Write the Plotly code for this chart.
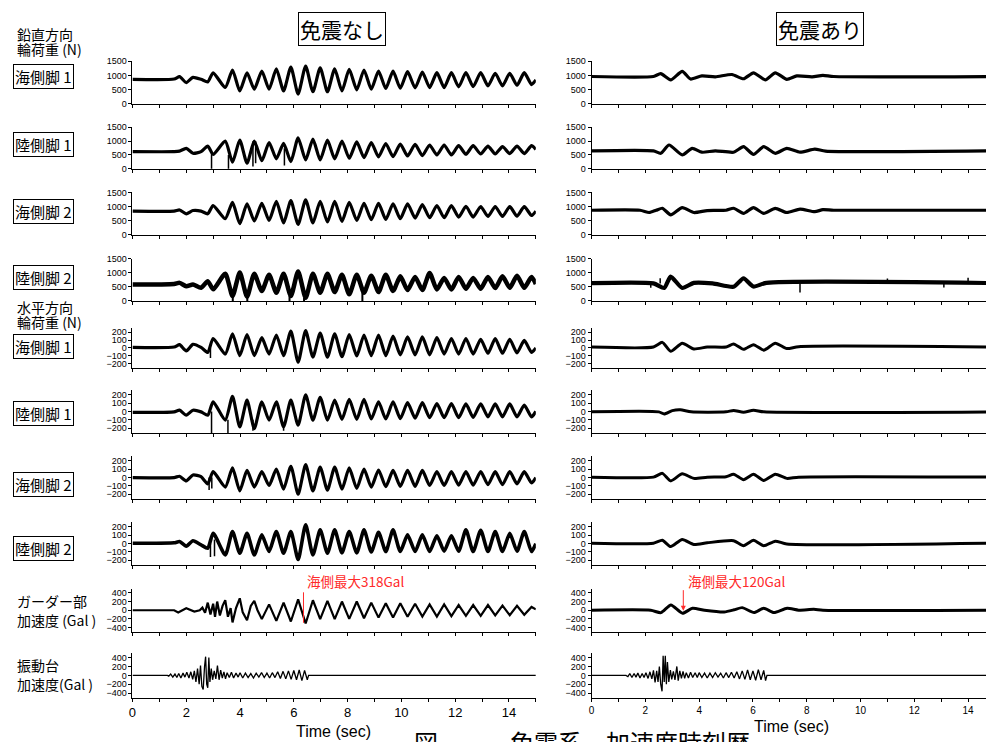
import plotly.graph_objects as go

W, H = 986, 742

# ---------------- data ----------------
# knot times for the left (no isolation) load traces: pre-event knots then alternating extrema
T_LEFT = [0, 1.55, 1.75, 2.0, 2.25, 2.55, 2.8, 3.0, 3.45,
          3.72, 3.99, 4.26, 4.53, 4.81, 5.08, 5.35, 5.62, 5.89, 6.16, 6.44, 6.71, 6.98, 7.25,
          7.52, 7.79, 8.06, 8.34, 8.61, 8.88, 9.15, 9.42, 9.69, 9.96, 10.23, 10.51, 10.78,
          11.05, 11.32, 11.59, 11.86, 12.13, 12.40, 12.67, 12.95, 13.22, 13.49, 13.76, 14.03,
          14.30, 14.57, 14.84, 15.0]

L_V_SEA1 = [860, 870, 955, 745, 930, 860, 770, 1090, 570,
            1190, 450, 1090, 510, 1150, 510, 1230, 450, 1290, 340, 1330, 420, 1270, 420,
            1230, 450, 1210, 490, 1190, 510, 1150, 535, 1150, 545, 1130, 560, 1115,
            570, 1095, 570, 1095, 595, 1095, 605, 1095, 630, 1070, 630, 1070,
            650, 1095, 675, 840]
L_V_LAND1 = [620, 620, 640, 740, 560, 620, 820, 520, 1000,
             240, 1035, 200, 1000, 290, 950, 360, 920, 260, 1120, 320, 1070, 320, 1035,
             360, 1000, 380, 975, 405, 950, 430, 915, 440, 895, 465, 880, 475,
             860, 500, 860, 500, 835, 525, 835, 535, 820, 535, 800, 550,
             820, 550, 835, 700]
L_V_SEA2 = [840, 840, 880, 745, 860, 840, 745, 1035, 570,
            1150, 395, 1095, 490, 1115, 510, 1185, 420, 1210, 370, 1235, 420, 1185, 455,
            1185, 475, 1150, 510, 1115, 535, 1115, 545, 1095, 570, 1095, 595, 1070,
            605, 1035, 605, 1035, 630, 1010, 630, 1000, 650, 1000, 650, 1000,
            665, 1000, 685, 840]
L_V_LAND2 = [580, 600, 640, 520, 580, 465, 700, 410, 965,
             175, 1010, 150, 965, 350, 930, 290, 965, 175, 1045, 115, 965, 290, 965,
             315, 930, 235, 930, 290, 895, 315, 930, 350, 870, 385, 850, 385,
             990, 405, 815, 405, 850, 430, 815, 430, 850, 455, 870, 465,
             895, 465, 850, 600]
L_H_SEA1 = [5, 10, 40, -40, 45, 5, -60, 120, -80,
            180, -100, 170, -100, 130, -80, 165, -100, 215, -185, 220, -120, 190, -120,
            180, -115, 170, -105, 165, -100, 165, -100, 150, -90, 140, -90, 140,
            -90, 130, -80, 120, -80, 120, -80, 110, -70, 120, -70, 110,
            -65, 95, -60, 0]
L_H_LAND1 = [-10, -5, 15, -45, 15, -5, -45, 115, -105,
             180, -185, 135, -205, 115, -105, 115, -185, 135, -165, 200, -105, 170, -105,
             135, -95, 145, -95, 145, -90, 115, -90, 115, -85, 105, -80, 105,
             -75, 95, -75, 95, -75, 90, -70, 90, -65, 90, -65, 90,
             -65, 75, -65, 0]
L_H_SEA2 = [0, 0, 15, -40, 30, 10, -75, 70, -115,
            115, -160, 85, -115, 70, -95, 100, -140, 135, -200, 155, -160, 125, -150,
            125, -140, 115, -130, 100, -115, 90, -110, 85, -105, 85, -105, 85,
            -95, 70, -95, 70, -90, 70, -90, 70, -85, 70, -85, 70,
            -75, 70, -65, 0]
L_H_LAND2 = [5, 10, 25, -30, 35, -15, -55, 125, -135,
             145, -115, 125, -135, 105, -95, 145, -115, 145, -190, 225, -135, 165, -115,
             165, -110, 145, -110, 165, -100, 135, -95, 165, -95, 105, -95, 105,
             -95, 95, -90, 95, -90, 165, -95, 160, -95, 145, -95, 125,
             -90, 145, -95, 0]

# girder acceleration, no isolation (Gal)
L_GIRDER_T = [0, 1.55, 1.7, 2.0, 2.3, 2.5, 2.6, 2.7, 2.8, 2.9,
              3.0, 3.07, 3.15, 3.25, 3.35, 3.45, 3.55, 3.65, 3.72, 3.85,
              3.99, 4.1, 4.26, 4.4, 4.53, 4.65, 4.81,
              5.08, 5.35, 5.62, 5.89, 6.16, 6.44, 6.71, 6.98, 7.25, 7.52,
              7.79, 8.06, 8.34, 8.61, 8.88, 9.15, 9.42, 9.69, 9.96, 10.23,
              10.51, 10.78, 11.05, 11.32, 11.59, 11.86, 12.13, 12.40, 12.67, 12.95,
              13.22, 13.49, 13.76, 14.03, 14.30, 14.57, 14.84, 15.0]
L_GIRDER = [0, 0, -50, 45, -30, 0, 60, -60, 175, -100,
            150, -150, 200, -120, 100, 230, -150, 50, -280, 50,
            275, -50, -230, 100, 215, 0, -205,
            135, -245, 175, -260, 250, -305, 230, -205, 215, -205,
            200, -200, 200, -185, 175, -170, 160, -170, 160, -150,
            150, -145, 135, -145, 135, -135, 120, -130, 120, -130,
            120, -120, 105, -115, 100, -105, 75, 20]

# shaking-table acceleration, no isolation (Gal)
L_TABLE_T = [0, 1.3, 1.35, 1.42, 1.5, 1.58, 1.65, 1.72, 1.8, 1.88,
             1.95, 2.02, 2.1, 2.17, 2.24, 2.3, 2.36, 2.42, 2.48, 2.53,
             2.58, 2.63, 2.68, 2.72, 2.76, 2.8, 2.84, 2.88, 2.93, 2.98,
             3.04, 3.1, 3.16, 3.22, 3.28, 3.34, 3.4, 3.46, 3.52, 3.6,
             3.68, 3.76, 3.85, 3.93, 4.0, 4.1, 4.2, 4.3, 4.4, 4.5,
             4.6, 4.7, 4.8, 4.9, 5.0, 5.1, 5.2, 5.3, 5.4, 5.5,
             5.6, 5.7, 5.8, 5.9, 6.0, 6.1, 6.2, 6.3, 6.4, 6.5, 6.55, 15]
L_TABLE = [0, 0, -20, 30, -40, 30, -50, 40, -60, 50,
           -40, 70, -60, 80, -90, 100, -150, 150, -200, 220,
           -250, -320, 200, 420, -200, -280, 400, -150, 150, -100,
           100, -80, 220, -100, 120, -60, 80, -80, 60, -50,
           70, -60, 50, -40, 60, -60, 50, -50, 40, -60,
           50, -40, 60, -50, 50, -60, 60, -50, 80, -70,
           90, -80, 100, -90, 110, -100, 120, -120, 110, -100, 0, 0]

# spikes (time, from, to) on the left traces
L_SPK_LAND1 = ([2.94, 3.57, 4.48, 4.58, 5.65], [620, 500, 1000, 1000, 740], [-250, -450, 80, 200, 120])
L_SPK_LAND2 = ([3.73, 4.27, 5.84, 6.38, 8.55], [175, 150, 175, 116, 291], [-60, 0, -120, -175, -116])
L_SPK_HSEA1 = ([2.9], [0], [-130])
L_SPK_HLAND1 = ([2.94, 3.55, 4.48, 5.62], [0, -100, -100, -150], [-330, -380, -230, -230])
L_SPK_HSEA2 = ([2.85, 2.95], [0, 0], [-150, -130])
L_SPK_HLAND2 = ([2.9, 3.05], [0, 50], [-160, -150])

# right (isolated) traces
R_V_SEA1_T = [0, 2.3, 2.57, 2.94, 3.37, 3.68, 4.1, 4.6, 5.22, 5.65, 6.02, 6.46, 6.83, 7.26, 7.63, 8.2, 8.6, 9.0, 15]
R_V_SEA1 = [960, 960, 1060, 840, 1140, 870, 980, 950, 1030, 880, 1090, 840, 1090, 860, 980, 950, 1000, 960, 960]
R_V_LAND1_T = [0, 2.3, 2.57, 2.88, 3.37, 3.74, 4.1, 4.6, 5.28, 5.65, 6.02, 6.4, 6.83, 7.26, 7.75, 8.3, 8.7, 15]
R_V_LAND1 = [650, 650, 560, 860, 500, 740, 600, 650, 600, 800, 520, 800, 560, 740, 600, 710, 640, 650]
R_V_SEA2_T = [0, 1.8, 2.14, 2.4, 2.63, 2.94, 3.37, 3.8, 4.3, 5.0, 5.28, 5.65, 6.02, 6.4, 6.83, 7.26, 7.75, 8.3, 8.6, 9.0, 15]
R_V_SEA2 = [870, 870, 790, 870, 940, 710, 965, 790, 860, 870, 940, 760, 965, 760, 940, 790, 910, 820, 890, 870, 870]
R_V_LAND2_T = [0, 2.3, 2.7, 2.94, 3.37, 3.8, 4.5, 5.28, 5.65, 6.02, 6.5, 15]
R_V_LAND2 = [630, 620, 460, 860, 460, 640, 620, 500, 800, 510, 640, 630]
R_SPK_LAND2 = ([2.2, 2.55, 7.75, 11.0, 13.1, 14.0], [620, 620, 630, 630, 630, 630], [470, 800, 300, 790, 480, 820])
R_H_SEA1_T = [0, 2.3, 2.63, 2.94, 3.37, 3.8, 4.3, 5.0, 5.28, 5.65, 6.02, 6.4, 6.83, 7.26, 7.7, 15]
R_H_SEA1 = [10, 10, 70, -45, 60, -15, 10, 10, 50, -20, 40, -30, 60, -10, 15, 10]
R_H_LAND1_T = [0, 2.5, 2.7, 3.0, 3.3, 3.7, 5.0, 5.28, 5.65, 6.02, 6.4, 15]
R_H_LAND1 = [-5, -5, -30, 10, 20, -5, -5, 12, -10, 15, -5, -5]
R_H_SEA2_T = [0, 2.3, 2.63, 2.94, 3.37, 3.8, 4.3, 5.0, 5.28, 5.65, 6.02, 6.4, 6.83, 7.26, 7.7, 15]
R_H_SEA2 = [5, 5, 50, -40, 45, -10, 5, 10, 40, -25, 40, -35, 40, -10, 5, 5]
R_H_LAND2_T = [0, 2.3, 2.63, 2.94, 3.37, 3.8, 4.3, 5.28, 5.65, 6.02, 6.4, 6.83, 7.26, 15]
R_H_LAND2 = [5, 5, 40, -35, 50, -10, 10, 35, -25, 40, -25, 30, -5, 5]
R_GIRDER_T = [0, 2.2, 2.58, 2.95, 3.38, 3.75, 4.2, 4.93, 5.3, 5.6, 6.04, 6.4, 6.78, 7.27, 7.7, 8.26, 8.6, 15]
R_GIRDER = [0, 0, -55, 120, -70, 45, 0, -40, 10, 60, -55, 45, -55, 45, 0, 20, 0, 0]
R_TABLE_T = [0, 1.28, 1.35, 1.42, 1.5, 1.58, 1.65, 1.72, 1.8, 1.88,
             1.95, 2.02, 2.1, 2.17, 2.24, 2.3, 2.36, 2.42, 2.47, 2.52,
             2.57, 2.62, 2.66, 2.7, 2.74, 2.78, 2.82, 2.87, 2.93, 2.98,
             3.04, 3.1, 3.17, 3.22, 3.28, 3.34, 3.4, 3.46, 3.52, 3.6,
             3.68, 3.76, 3.85, 3.93, 4.0, 4.1, 4.2, 4.3, 4.4, 4.5,
             4.6, 4.7, 4.8, 4.9, 5.0, 5.1, 5.2, 5.3, 5.4, 5.5,
             5.6, 5.7, 5.8, 5.9, 6.0, 6.1, 6.2, 6.3, 6.4, 6.47, 6.52, 15]
R_TABLE = [0, 0, -30, 40, -50, 40, -40, 50, -60, 40,
           -50, 60, -70, 80, -80, 110, -160, 100, -150, 200,
           -200, -360, 440, -150, 440, -200, 300, -150, 120, -90,
           90, -100, 200, -120, 100, -70, 90, -70, 60, -60,
           70, -50, 60, -50, 60, -50, 50, -60, 50, -50,
           60, -40, 50, -60, 60, -50, 70, -60, 80, -80,
           100, -90, 120, -100, 100, -110, 130, -100, 110, -120, 0, 0]

# axis ticks and labels
X_TICKS = [0, 2, 4, 6, 8, 10, 12, 14]
X_MINOR = [1, 3, 5, 7, 9, 11, 13, 15]
Y_TICKS_V = [0, 500, 1000, 1500]
Y_TICKS_H = [-200, -100, 0, 100, 200]
Y_TICKS_A = [-400, -200, 0, 200, 400]

PANEL_TITLES = ["免震なし", "免震あり"]
ROW_LABELS = ["海側脚 1", "陸側脚 1", "海側脚 2", "陸側脚 2", "海側脚 1", "陸側脚 1", "海側脚 2", "陸側脚 2"]
GROUP_LABELS = [("鉛直方向", "輪荷重 (N)"), ("水平方向", "輪荷重 (N)"),
                ("ガーダー部", "加速度 (Gal )"), ("振動台", "加速度(Gal )")]
PEAK_LABELS = ["海側最大318Gal", "海側最大120Gal"]
PEAK_POINTS = [(6.36, -290), (3.41, -10)]
X_TITLE = "Time (sec)"
CAPTION = "図－　　免震系　加速度時刻歴"

# ---------------- layout geometry (pixels) ----------------
ROW_PIX = [(57, 100), (124, 166), (190, 233), (257, 300), (327, 368), (390, 434),
           (457, 501), (524, 568), (591.5, 635.5), (657, 702)]
ROW_RANGE = [[0, 1500]] * 4 + [[-260, 260]] * 4 + [[-500, 500]] * 2
ROW_TICKS = [Y_TICKS_V] * 4 + [Y_TICKS_H] * 4 + [Y_TICKS_A] * 2
LEFT_X = (129, 534)
RIGHT_X = (590, 986)
PX_PER_SEC = 27.0

JP = "Noto Sans CJK JP"
LAT = "Liberation Sans"

fig = go.Figure()


def aid(i):
    return "" if i == 1 else str(i)


def add_line(i, x, y, width, shape="spline"):
    fig.add_trace(go.Scatter(x=x, y=y, mode="lines", xaxis="x" + aid(i), yaxis="y" + aid(i),
                             line=dict(color="black", width=width, shape=shape, smoothing=0.6),
                             showlegend=False, hoverinfo="skip"))


def add_spikes(i, spk, width=1.5):
    xs, ys = [], []
    for t, a, b in zip(*spk):
        xs += [t, t, None]
        ys += [a, b, None]
    fig.add_trace(go.Scatter(x=xs, y=ys, mode="lines", xaxis="x" + aid(i), yaxis="y" + aid(i),
                             line=dict(color="black", width=width), showlegend=False, hoverinfo="skip"))


left_series = [(T_LEFT, L_V_SEA1, 3.2, "spline"), (T_LEFT, L_V_LAND1, 3.2, "spline"),
               (T_LEFT, L_V_SEA2, 3.2, "spline"), (T_LEFT, L_V_LAND2, 4.5, "spline"),
               (T_LEFT, L_H_SEA1, 3.2, "spline"), (T_LEFT, L_H_LAND1, 3.2, "spline"),
               (T_LEFT, L_H_SEA2, 3.2, "spline"), (T_LEFT, L_H_LAND2, 3.6, "spline"),
               (L_GIRDER_T, L_GIRDER, 2.2, "linear"), (L_TABLE_T, L_TABLE, 1.3, "linear")]
right_series = [(R_V_SEA1_T, R_V_SEA1, 3.2, "spline"), (R_V_LAND1_T, R_V_LAND1, 3.2, "spline"),
                (R_V_SEA2_T, R_V_SEA2, 3.2, "spline"), (R_V_LAND2_T, R_V_LAND2, 4.2, "spline"),
                (R_H_SEA1_T, R_H_SEA1, 3.0, "spline"), (R_H_LAND1_T, R_H_LAND1, 3.0, "spline"),
                (R_H_SEA2_T, R_H_SEA2, 3.0, "spline"), (R_H_LAND2_T, R_H_LAND2, 3.0, "spline"),
                (R_GIRDER_T, R_GIRDER, 3.0, "spline"), (R_TABLE_T, R_TABLE, 1.3, "linear")]

for r, (x, y, w, s) in enumerate(left_series):
    add_line(r + 1, x, y, w, s)
for r, (x, y, w, s) in enumerate(right_series):
    add_line(11 + r, x, y, w, s)

add_spikes(2, L_SPK_LAND1)
add_spikes(4, L_SPK_LAND2, 2)
add_spikes(5, L_SPK_HSEA1)
add_spikes(6, L_SPK_HLAND1)
add_spikes(7, L_SPK_HSEA2)
add_spikes(8, L_SPK_HLAND2)
add_spikes(14, R_SPK_LAND2)

layout = dict(width=W, height=H, margin=dict(l=0, r=0, t=0, b=0),
              paper_bgcolor="white", plot_bgcolor="white", showlegend=False)

for side in range(2):
    x0, x1 = LEFT_X if side == 0 else RIGHT_X
    xmax = 15 if side == 0 else (x1 - x0) / PX_PER_SEC
    for r in range(10):
        i = side * 10 + r + 1
        top, bot = ROW_PIX[r]
        bottom_row = (r == 9)
        layout["xaxis" + aid(i)] = dict(
            domain=[x0 / W, x1 / W], range=[0, xmax], anchor="y" + aid(i),
            showline=True, linecolor="black", linewidth=1, showgrid=False, zeroline=False,
            ticks="outside", ticklen=3, tickcolor="black", tickvals=X_TICKS,
            minor=dict(tickvals=X_MINOR, ticks="outside", ticklen=3, tickcolor="black", showgrid=False),
            showticklabels=bottom_row,
            tickfont=dict(family=LAT, size=13 if side == 0 else 10, color="black"))
        layout["yaxis" + aid(i)] = dict(
            domain=[1 - bot / H, 1 - top / H], range=ROW_RANGE[r], anchor="x" + aid(i),
            showline=True, linecolor="black", linewidth=1, showgrid=False, zeroline=False,
            ticks="outside", ticklen=3, tickcolor="black", tickvals=ROW_TICKS[r],
            tickfont=dict(family=LAT, size=9, color="black"))

fig.update_layout(**layout)

ann = []


def txt(text, X, Y, size, xanchor="left", box=False, color="black", family=JP, pad=2):
    d = dict(text=text, x=X / W, y=1 - Y / H, xref="paper", yref="paper", showarrow=False,
             xanchor=xanchor, yanchor="middle", font=dict(family=family, size=size, color=color))
    if box:
        d.update(bordercolor="black", borderwidth=1, borderpad=pad, bgcolor="white")
    ann.append(d)


txt(PANEL_TITLES[0], 339, 24, 21, "center", box=True, pad=1)
txt(PANEL_TITLES[1], 819, 24, 21, "center", box=True, pad=1)

label_y = [72, 141, 209, 276, 346, 414, 486, 551]
for lab, yy in zip(ROW_LABELS, label_y):
    txt(lab, 9, yy, 15, box=True, pad=1)

group_y = [(29, 45), (306, 321), (604, 623), (669, 688)]
for (l1, l2), (y1, y2) in zip(GROUP_LABELS, group_y):
    txt(l1, 11, y1, 14)
    txt(l2, 11, y2, 14)

txt(PEAK_LABELS[0], 302, 584, 13.5, color="#ff2a2a")
txt(PEAK_LABELS[1], 685, 584, 13.5, color="#ff2a2a")

txt(X_TITLE, 331, 736, 16, "center", family=LAT)
txt(X_TITLE, 791, 731, 16, "center", family=LAT)
txt(CAPTION, 580, 747, 24, "center")

# red arrows to the peak values
ann.append(dict(x=PEAK_POINTS[0][0], y=PEAK_POINTS[0][1], xref="x9", yref="y9", text="",
                showarrow=True, arrowhead=0, arrowwidth=1, arrowcolor="#ff2a2a", ax=0, ay=-32))
ann.append(dict(x=PEAK_POINTS[1][0], y=PEAK_POINTS[1][1], xref="x19", yref="y19", text="",
                showarrow=True, arrowhead=2, arrowsize=1, arrowwidth=1, arrowcolor="#ff2a2a", ax=0, ay=-22))

fig.update_layout(annotations=ann)
fig.write_html("out.html", config={"displayModeBar": False},
               post_script="document.body.style.margin='0';document.body.style.overflow='hidden';")
